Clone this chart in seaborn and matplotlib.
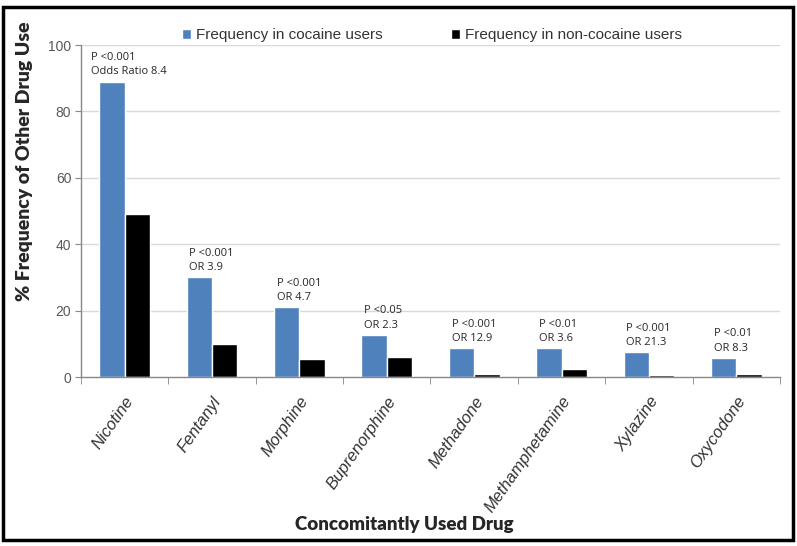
import pandas as pd
import numpy as np
import matplotlib
matplotlib.use('Agg')
import matplotlib.pyplot as plt
import seaborn as sns
from matplotlib.patches import Patch, Rectangle

# ----------------------
# Data
# ----------------------
drugs = ['Nicotine', 'Fentanyl', 'Morphine', 'Buprenorphine', 'Methadone',
         'Methamphetamine', 'Xylazine', 'Oxycodone']
cocaine_freq = [89, 30, 21, 12.7, 8.7, 8.7, 7.4, 5.8]
non_cocaine_freq = [49, 10, 5.4, 6.0, 0.8, 2.5, 0.6, 0.8]
p_labels = ['P <0.001', 'P <0.001', 'P <0.001', 'P <0.05', 'P <0.001',
            'P <0.01', 'P <0.001', 'P <0.01']
or_labels = ['Odds Ratio 8.4', 'OR 3.9', 'OR 4.7', 'OR 2.3', 'OR 12.9',
             'OR 3.6', 'OR 21.3', 'OR 8.3']
groups = ['Frequency in cocaine users', 'Frequency in non-cocaine users']

df = pd.DataFrame({
    'drug': drugs * 2,
    'freq': cocaine_freq + non_cocaine_freq,
    'group': [groups[0]] * len(drugs) + [groups[1]] * len(drugs),
})

blue = '#4F81BD'
sns.set_style('white')
plt.rcParams['font.family'] = ['Liberation Sans', 'DejaVu Sans']

fig = plt.figure(figsize=(7.97, 5.46), dpi=100)
ax = fig.add_axes([0.1016, 0.3095, 0.8771, 0.608])

sns.barplot(data=df, x='drug', y='freq', hue='group', palette=[blue, 'black'],
            width=0.58, saturation=1, gap=0, ax=ax, legend=False)

ax.set_ylim(0, 100)
ax.set_xlim(-0.5, len(drugs) - 0.5)
ax.set_yticks([0, 20, 40, 60, 80, 100])
ax.tick_params(axis='y', labelsize=10, length=4, color='#888888', pad=3,
               left=True, labelcolor='#595959')
for y in [20, 40, 60, 80, 100]:
    ax.axhline(y, color='#d9d9d9', lw=1, zorder=0)

# x ticks between groups, Excel style
ax.set_xticks(np.arange(-0.5, len(drugs)), minor=True)
ax.tick_params(axis='x', which='minor', length=5, color='#888888', bottom=True)
ax.tick_params(axis='x', which='major', length=0, pad=12)
ax.set_xticklabels(drugs, rotation=55, ha='right', rotation_mode='anchor',
                   fontsize=12, style='italic', color='#333333')

for side in ['top', 'right']:
    ax.spines[side].set_visible(False)
for side in ['left', 'bottom']:
    ax.spines[side].set_color('#888888')
    ax.spines[side].set_linewidth(1)

ax.set_xlabel('Concomitantly Used Drug', family=['Lato', 'DejaVu Sans'],
              fontsize=13.5, fontweight='heavy')
ax.xaxis.set_label_coords(0.463, -0.42)
ax.set_ylabel('% Frequency of Other Drug Use', family=['Lato', 'DejaVu Sans'],
              fontsize=14, fontweight='heavy')
ax.yaxis.set_label_coords(-0.068, 0.65)

# annotations above cocaine bars
for i, bar in enumerate(ax.containers[0]):
    dx = -6 if i == 0 else 2
    ax.annotate(p_labels[i] + '\n' + or_labels[i],
                (bar.get_x(), bar.get_height()), xytext=(dx, 3),
                textcoords='offset points', ha='left', va='bottom',
                fontsize=8, family=['Open Sans', 'DejaVu Sans'],
                linespacing=1.4)

handles = [Patch(facecolor=blue), Patch(facecolor='black')]
ax.legend(handles, groups, loc='center', bbox_to_anchor=(0.502, 1.03),
          ncol=2, frameon=False, fontsize=11, handlelength=0.6,
          handleheight=0.6, handletextpad=0.3, columnspacing=4.5,
          labelcolor='#333333')

# black frame round the chart
fig.patches.append(Rectangle((0.004, 0.011), 0.991, 0.976,
                             transform=fig.transFigure, fill=False,
                             edgecolor='black', lw=2.5))

plt.savefig('out.png', dpi=100)
